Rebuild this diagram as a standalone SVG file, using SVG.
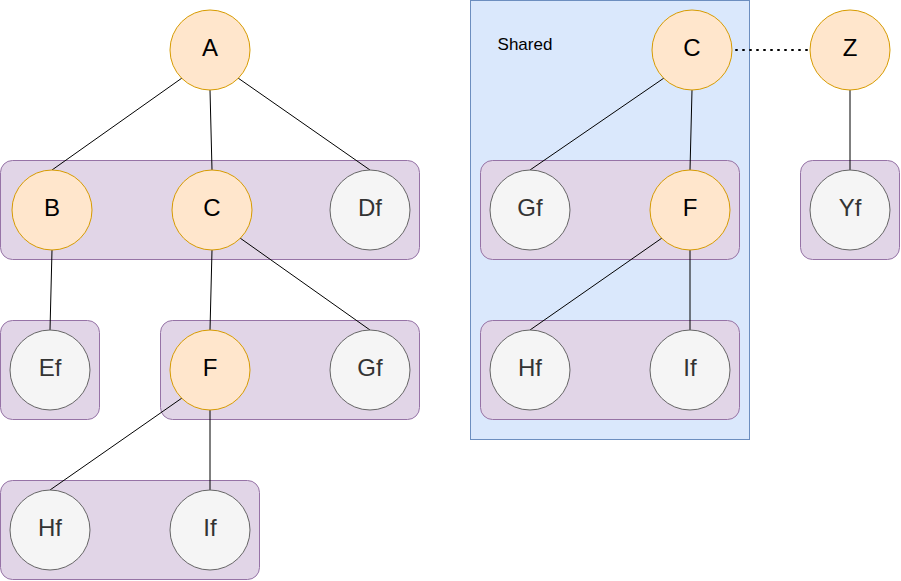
<svg xmlns="http://www.w3.org/2000/svg" width="901" height="581" viewBox="0 0 901 581">
<style>
.bg{fill:#ffffff}
.grp{fill:#e1d5e7;stroke:#9673a6;stroke-width:1}
.shared{fill:#dae8fc;stroke:#6c8ebf;stroke-width:1}
.o{fill:#ffe6cc;stroke:#d79b00;stroke-width:1}
.g{fill:#f5f5f5;stroke:#666666;stroke-width:1}
.lo{font-family:"Liberation Sans",Arial,sans-serif;font-size:24px;fill:#000000;text-anchor:middle}
.lg{font-family:"Liberation Sans",Arial,sans-serif;font-size:24px;fill:#333333;text-anchor:middle}
.e{stroke:#000000;stroke-width:1;fill:none}
.d{stroke:#000000;stroke-width:2;fill:none;stroke-dasharray:1 6;stroke-linecap:round}
</style>
<rect class="bg" x="0" y="0" width="901" height="581"/>
<g id="shared-area">
<rect class="shared" x="470.5" y="0.5" width="279" height="439"/>
<text x="525" y="50" font-family="Liberation Sans,Arial,sans-serif" font-size="17" text-anchor="middle" fill="#000">Shared</text>
</g>
<g id="containers">
<rect id="g-row1" class="grp" x="0.5" y="160.5" width="419" height="99" rx="12"/>
<rect id="g-ef" class="grp" x="0.5" y="320.5" width="99" height="99" rx="12"/>
<rect id="g-fgf" class="grp" x="160.5" y="320.5" width="259" height="99" rx="12"/>
<rect id="g-hfif" class="grp" x="0.5" y="480.5" width="259" height="99" rx="12"/>
<rect id="g-r-gff" class="grp" x="480.5" y="160.5" width="259" height="99" rx="12"/>
<rect id="g-r-hfif" class="grp" x="480.5" y="320.5" width="259" height="99" rx="12"/>
<rect id="g-yf" class="grp" x="800.5" y="160.5" width="99" height="99" rx="12"/>
</g>
<g id="connectors">
<line class="e" x1="182" y1="78" x2="52" y2="170"/>
<line class="e" x1="210" y1="90" x2="212" y2="170"/>
<line class="e" x1="238" y1="78" x2="370" y2="170"/>
<line class="e" x1="52" y1="250" x2="50" y2="330"/>
<line class="e" x1="212" y1="250" x2="210" y2="330"/>
<line class="e" x1="240" y1="238" x2="370" y2="330"/>
<line class="e" x1="182" y1="398" x2="50" y2="490"/>
<line class="e" x1="210" y1="410" x2="210" y2="490"/>
<line class="e" x1="664" y1="78" x2="530" y2="170"/>
<line class="e" x1="692" y1="90" x2="690" y2="170"/>
<line class="e" x1="662" y1="238" x2="530" y2="330"/>
<line class="e" x1="690" y1="250" x2="690" y2="330"/>
<line class="e" x1="850" y1="90" x2="850" y2="170"/>
<line class="d" x1="736" y1="50" x2="808" y2="50"/>
</g>
<g id="n-A"><circle class="o" cx="210" cy="50" r="40"/><text class="lo" x="210" y="56">A</text></g>
<g id="n-B"><circle class="o" cx="52" cy="210" r="40"/><text class="lo" x="52" y="216">B</text></g>
<g id="n-C"><circle class="o" cx="212" cy="210" r="40"/><text class="lo" x="212" y="216">C</text></g>
<g id="n-Df"><circle class="g" cx="370" cy="210" r="40"/><text class="lg" x="370" y="216">Df</text></g>
<g id="n-Ef"><circle class="g" cx="50" cy="370" r="40"/><text class="lg" x="50" y="376">Ef</text></g>
<g id="n-F"><circle class="o" cx="210" cy="370" r="40"/><text class="lo" x="210" y="376">F</text></g>
<g id="n-Gf"><circle class="g" cx="370" cy="370" r="40"/><text class="lg" x="370" y="376">Gf</text></g>
<g id="n-Hf"><circle class="g" cx="50" cy="530" r="40"/><text class="lg" x="50" y="536">Hf</text></g>
<g id="n-If"><circle class="g" cx="210" cy="530" r="40"/><text class="lg" x="210" y="536">If</text></g>
<g id="n-C2"><circle class="o" cx="692" cy="50" r="40"/><text class="lo" x="692" y="56">C</text></g>
<g id="n-Z"><circle class="o" cx="850" cy="50" r="40"/><text class="lo" x="850" y="56">Z</text></g>
<g id="n-Gf2"><circle class="g" cx="530" cy="210" r="40"/><text class="lg" x="530" y="216">Gf</text></g>
<g id="n-F2"><circle class="o" cx="690" cy="210" r="40"/><text class="lo" x="690" y="216">F</text></g>
<g id="n-Hf2"><circle class="g" cx="530" cy="370" r="40"/><text class="lg" x="530" y="376">Hf</text></g>
<g id="n-If2"><circle class="g" cx="690" cy="370" r="40"/><text class="lg" x="690" y="376">If</text></g>
<g id="n-Yf"><circle class="g" cx="850" cy="210" r="40"/><text class="lg" x="850" y="216">Yf</text></g>
</svg>
